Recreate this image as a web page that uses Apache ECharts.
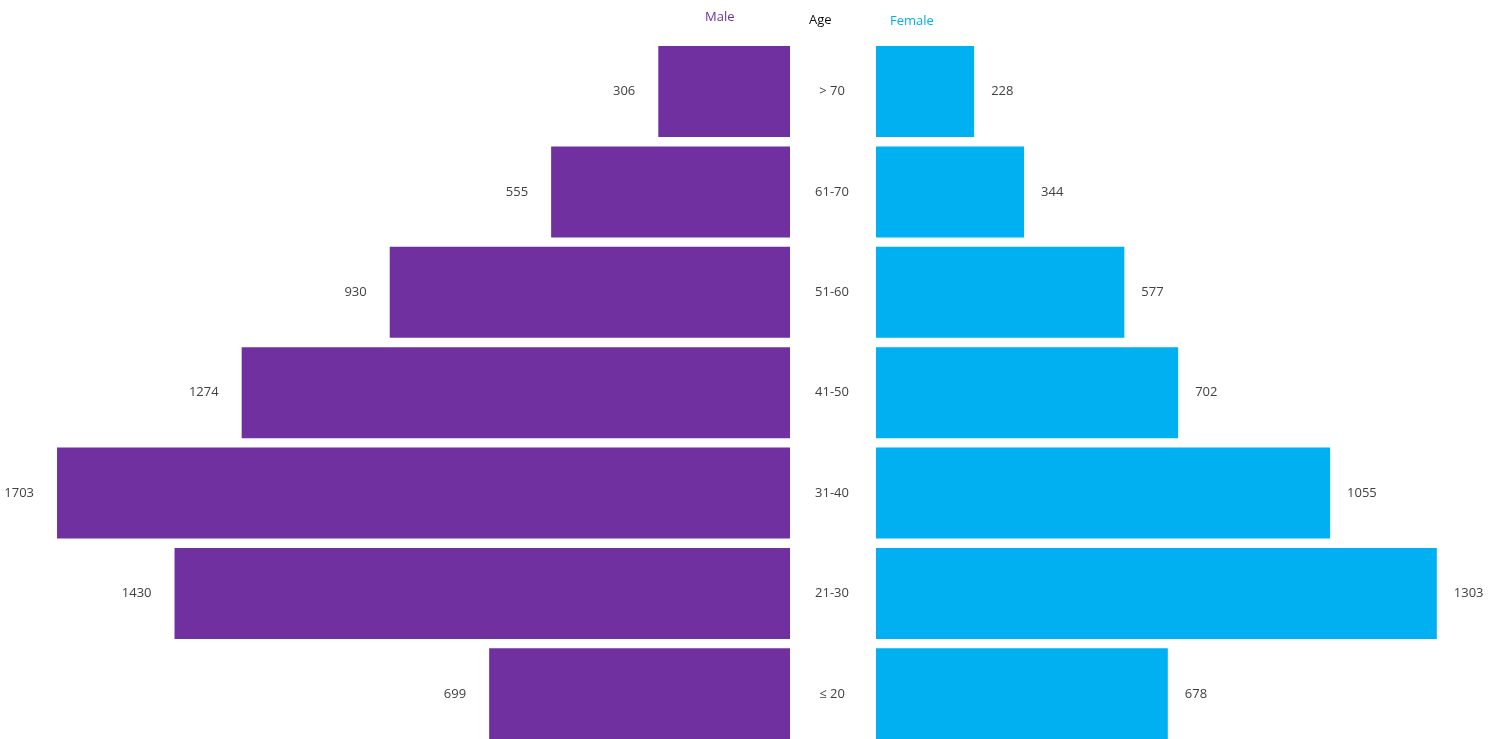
<!DOCTYPE html>
<html><head><meta charset="utf-8">
<script src="https://cdn.jsdelivr.net/npm/echarts@6/dist/echarts.min.js"></script>
<style>html,body{margin:0;padding:0;background:#fff}#c{width:1502px;height:739px}</style>
</head><body><div id="c"></div>
<script>
const ageGroups = ["> 70", "61-70", "51-60", "41-50", "31-40", "21-30", "≤ 20"];
const maleValues = [306, 555, 930, 1274, 1703, 1430, 699];
const femaleValues = [228, 344, 577, 702, 1055, 1303, 678];
const headers = { male: "Male", age: "Age", female: "Female" };

const chart = echarts.init(document.getElementById('c'));
const font = "'Open Sans', 'Liberation Sans', sans-serif";
const purple = '#7030A0', cyan = '#00B0F0';
const pxPerUnit = 0.4304;
const maleMax = 1800, femaleMax = 1400;
const gTop = 41.3, gBottom = -5;

chart.setOption({
  animation: false,
  backgroundColor: '#fff',
  graphic: [
    { type: 'text', left: 705, top: 11, style: { text: headers.male, fill: purple, font: '13px ' + font } },
    { type: 'text', left: 809, top: 14, style: { text: headers.age, fill: '#111', font: '13px ' + font } },
    { type: 'text', left: 890, top: 15, style: { text: headers.female, fill: cyan, font: '13px ' + font } }
  ],
  grid: [
    { left: 790 - maleMax * pxPerUnit, width: maleMax * pxPerUnit, top: gTop, bottom: gBottom, containLabel: false, outerBoundsMode: 'none' },
    { left: 876, width: femaleMax * pxPerUnit, top: gTop, bottom: gBottom, containLabel: false, outerBoundsMode: 'none' }
  ],
  xAxis: [
    { gridIndex: 0, type: 'value', min: 0, max: maleMax, inverse: true, show: false },
    { gridIndex: 1, type: 'value', min: 0, max: femaleMax, show: false }
  ],
  yAxis: [
    { gridIndex: 0, type: 'category', data: ageGroups, inverse: true, show: false },
    { gridIndex: 1, type: 'category', data: ageGroups, inverse: true, position: 'left',
      axisLine: { show: false }, axisTick: { show: false },
      axisLabel: { align: 'center', margin: 44, color: '#404040', fontFamily: font, fontSize: 13 } }
  ],
  series: [
    { type: 'bar', xAxisIndex: 0, yAxisIndex: 0, data: maleValues, barWidth: 91,
      itemStyle: { color: purple },
      label: { show: true, position: 'left', distance: 23, color: '#404040', fontFamily: font, fontSize: 13 } },
    { type: 'bar', xAxisIndex: 1, yAxisIndex: 1, data: femaleValues, barWidth: 91,
      itemStyle: { color: cyan },
      label: { show: true, position: 'right', distance: 17, color: '#404040', fontFamily: font, fontSize: 13 } }
  ]
});
</script></body></html>
